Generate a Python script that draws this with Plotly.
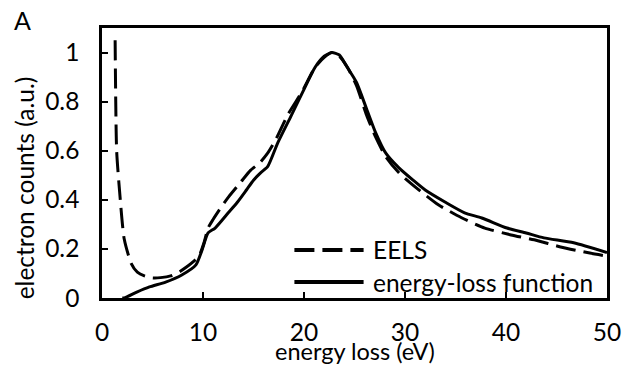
import plotly.graph_objects as go

# Energy-loss spectrum (EELS) and computed energy-loss function, normalised
eels_energy = [1.3, 1.45, 1.75, 2.2, 2.9, 3.5, 4.2, 5.0, 5.8, 6.8, 7.6, 8.4, 9.1, 9.6,
               10.1, 10.5, 11.0, 11.8, 12.5, 13.7, 14.7, 15.6, 16.4, 17.2, 18.4, 19.8,
               21.1, 22.0, 22.75, 23.5, 24.3, 25.2, 26.2, 27.1, 28.1, 29.4, 31.0, 33.3,
               35.6, 37.9, 40.5, 42.8, 45.4, 48.3, 50.0]
eels_counts = [1.05, 0.6, 0.43, 0.24, 0.14, 0.105, 0.09, 0.082, 0.083, 0.09, 0.105, 0.127,
               0.15, 0.17, 0.225, 0.285, 0.32, 0.37, 0.41, 0.47, 0.52, 0.55, 0.59, 0.645,
               0.747, 0.84, 0.94, 0.98, 1.0, 0.985, 0.94, 0.865, 0.745, 0.655, 0.575, 0.51,
               0.453, 0.38, 0.327, 0.285, 0.257, 0.237, 0.208, 0.183, 0.17]

elf_energy = [2.0, 2.2, 3.5, 4.7, 6.3, 7.9, 9.3, 9.9, 10.5, 11.2, 12.5, 13.4, 14.3, 15.0,
              15.7, 16.4, 17.4, 18.7, 20.0, 21.1, 22.0, 22.75, 23.5, 24.2, 25.2, 26.2,
              27.1, 28.1, 29.4, 30.8, 32.0, 34.0, 35.9, 37.6, 40.1, 42.0, 43.75, 46.7, 50.0]
elf_counts = [0.0, 0.0, 0.025, 0.045, 0.065, 0.094, 0.135, 0.195, 0.265, 0.285, 0.347, 0.39,
              0.44, 0.48, 0.51, 0.535, 0.632, 0.74, 0.85, 0.94, 0.985, 1.0, 0.99, 0.945,
              0.878, 0.77, 0.673, 0.59, 0.53, 0.48, 0.44, 0.39, 0.347, 0.326, 0.285, 0.265,
              0.245, 0.225, 0.185]

x_ticks = [0, 10, 20, 30, 40, 50]
y_ticks = [0, 0.2, 0.4, 0.6, 0.8, 1.0]
y_tick_text = ["0", "0.2", "0.4", "0.6", "0.8", "1"]

FONT = "Lato"
FS = 24.5
DASH = "20px,8px"

fig = go.Figure()
fig.add_trace(go.Scatter(x=eels_energy, y=eels_counts, mode="lines", name="EELS",
                         line=dict(color="black", width=3, dash=DASH, shape="spline", smoothing=0.6)))
fig.add_trace(go.Scatter(x=elf_energy, y=elf_counts, mode="lines", name="energy-loss function",
                         line=dict(color="black", width=3, shape="spline", smoothing=0.6)))

axis_common = dict(showgrid=False, zeroline=False, showline=True, linecolor="black",
                   linewidth=2.5, mirror=True, ticks="inside", ticklen=6, tickwidth=2,
                   tickcolor="black", tickfont=dict(family=FONT, size=FS, color="black"))

fig.update_xaxes(range=[0, 50], tickvals=x_ticks, ticklabelstandoff=11, **axis_common)
fig.update_yaxes(range=[0, 1.1], tickvals=y_ticks, ticktext=y_tick_text,
                 ticklabelstandoff=15, **axis_common)


def label(text, x, y, xanchor="center", angle=0, size=FS):
    fig.add_annotation(text=text, xref="paper", yref="paper", x=x, y=y,
                       showarrow=False, xanchor=xanchor, yanchor="middle",
                       textangle=angle, font=dict(family=FONT, size=size, color="black"))


label("A", -0.158, 1.03, size=25)
label("energy loss (eV)", 0.5, -0.196, size=23.5)
label("electron counts (a.u.)", -0.154, 0.407, angle=-90)
label("EELS", 0.533, 0.178, xanchor="left")
label("energy-loss function", 0.533, 0.059, xanchor="left")

# legend keys
fig.add_shape(type="line", xref="paper", yref="paper", x0=0.381, x1=0.518, y0=0.178, y1=0.178,
              line=dict(color="black", width=4, dash=DASH))
fig.add_shape(type="line", xref="paper", yref="paper", x0=0.381, x1=0.518, y0=0.059, y1=0.059,
              line=dict(color="black", width=4))

fig.update_layout(width=633, height=368, margin=dict(l=102, r=19, t=28, b=70),
                  plot_bgcolor="white", paper_bgcolor="white", showlegend=False)

fig.write_html("out.html")
